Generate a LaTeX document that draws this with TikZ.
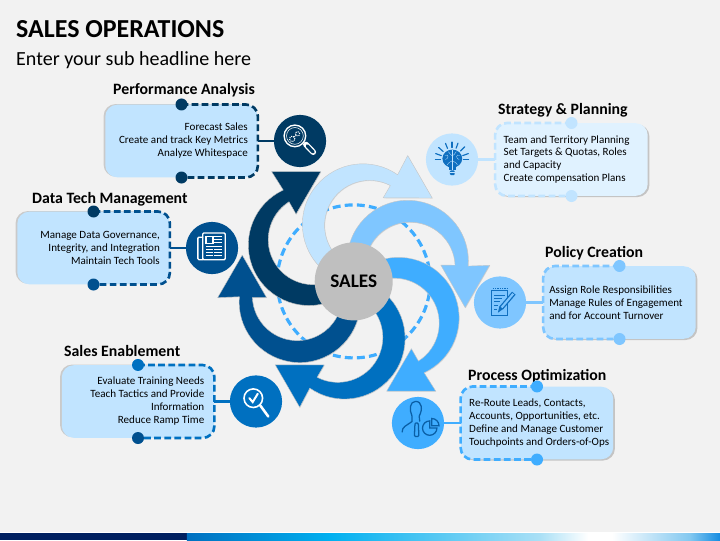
\documentclass[tikz,border=0pt]{standalone}
\usepackage{fontspec}
\setmainfont{Carlito}
\usetikzlibrary{positioning}
\usetikzlibrary{shadows}
\definecolor{pageGrey}{HTML}{F2F2F2}
\definecolor{navyBlue}{HTML}{003A63}
\definecolor{darkBlue}{HTML}{00508F}
\definecolor{midBlue}{HTML}{0070C0}
\definecolor{brightBlue}{HTML}{3FADFF}
\definecolor{softBlue}{HTML}{7FC6FF}
\definecolor{paleBlue}{HTML}{C1E4FF}
\definecolor{palerBlue}{HTML}{E0F2FF}
\definecolor{hubGrey}{HTML}{BFBFBF}
\definecolor{iconBlue}{HTML}{0F6FC0}
\definecolor{iconDeep}{HTML}{0A5FA6}
\newcommand{\salesArrow}[2]{
	\begin{scope}[shift={(salesCentre)}, rotate=#1]
		\path[draw=gray!45, line width=0.35pt, fill=#2, drop shadow={shadow xshift=0.5pt, shadow yshift=-0.5pt, opacity=0.2}] (-0.804, -0.680) arc[start angle=-70, end angle=-245, radius=2.018] -- (-2.733, 3.656) -- (-1.1, 3.656) -- (-1.922, 2.244) -- (-2.157, 2.656) arc[start angle=122.5, end angle=275, radius=1.5] -- cycle;
	\end{scope}
}
\begin{document}
\begin{tikzpicture}
			\tikzstyle{heading}=[anchor=west, inner sep=0, text height=10pt, text depth=1.5pt, font=\fontsize{15}{17}\selectfont\bfseries]
			\tikzstyle{panel}=[rectangle, rounded corners=0.4cm, minimum height=2.42cm, font=\fontsize{10.5}{12.3}\selectfont]
			\tikzstyle{panelRight}=[panel, align=flush right, inner xsep=0.33cm, text width=4.42cm, drop shadow={shadow xshift=-1.6pt, shadow yshift=0.6pt, opacity=0.35}]
			\tikzstyle{panelLeft}=[panel, align=flush left, inner xsep=0.28cm, text width=4.52cm, drop shadow={shadow xshift=1.6pt, shadow yshift=-1.2pt, opacity=0.4}]
			\tikzstyle{iconDisc}=[circle, minimum size=1.74cm, inner sep=0]
			\tikzstyle{endDot}=[circle, minimum size=0.4cm, inner sep=0]
			\tikzstyle{dashLine}=[line width=2.5pt, dash pattern=on 6.4pt off 3.2pt, rounded corners=0.4cm]
			\tikzstyle{linkLine}=[line width=2.7pt]
			\tikzstyle{whiteIcon}=[draw=white, line width=1.3pt, line cap=round]
			\useasboundingbox (0, 0) rectangle (24, 18);
			\fill[pageGrey] (0, 0) rectangle (24, 18);
			
			\fill[white] (0, 0.22) rectangle (24, 0.26);
			\fill[color={rgb,255:red,0;green,32;blue,96}] (0, 0) rectangle (6.24, 0.22);
			\shade[left color=midBlue, right color={rgb,255:red,0;green,176;blue,240}] (6.23, 0) rectangle (11, 0.22);
			\shade[left color={rgb,255:red,0;green,176;blue,240}, right color={rgb,255:red,170;green,224;blue,246}] (11, 0) rectangle (18, 0.22);
			\shade[left color={rgb,255:red,170;green,224;blue,246}, right color=white] (18, 0) rectangle (19.6, 0.22);
			\fill[white] (19.6, 0) rectangle (20.4, 0.22);
			\shade[left color=white, right color={rgb,255:red,130;green,200;blue,240}] (20.4, 0) rectangle (23, 0.22);
			\shade[left color={rgb,255:red,130;green,200;blue,240}, right color={rgb,255:red,20;green,140;blue,225}] (23, 0) rectangle (24, 0.22);
			
			\node[anchor=west, inner sep=0, font=\fontsize{24.6}{26}\selectfont\bfseries] at (0.533, 17.03) (mainTitle) {SALES OPERATIONS};
			\node[anchor=west, inner sep=0, font=\fontsize{19}{22}\selectfont] at (0.533, 16.0) (subTitle) {Enter your sub headline here};
			
			\coordinate (salesCentre) at (11.79, 8.62);
			\draw[brightBlue, line width=3pt, dash pattern=on 7.5pt off 4pt] (salesCentre) circle (2.55);
			\salesArrow{0}{navyBlue}
			\salesArrow{-60}{paleBlue}
			\salesArrow{-120}{softBlue}
			\salesArrow{-180}{brightBlue}
			\salesArrow{-240}{midBlue}
			\salesArrow{-300}{darkBlue}
			\node[circle, fill=hubGrey, minimum size=2.6cm, inner sep=0, font=\fontsize{18.2}{20}\selectfont\bfseries] at (salesCentre) (salesHub) {SALES};
			
			\node[heading] at (3.767, 15.0) (perfTitle) {Performance Analysis};
			\node[panelRight, fill=paleBlue] at (6.05, 13.3) (perfBox) {Forecast Sales\\Create and track Key Metrics\\Analyze Whitespace};
			\node[iconDisc, fill=navyBlue] at (10, 13.3) (perfIcon) {};
			\draw[dashLine, navyBlue] (perfBox.north) -| (perfBox.east) |- (perfBox.south);
			\node[endDot, fill=navyBlue] at (perfBox.north) (perfTop) {};
			\node[endDot, fill=navyBlue] at (perfBox.south) (perfBottom) {};
			\draw[linkLine, navyBlue] (perfBox.east) -- (perfIcon);
			
			\node[heading] at (1.067, 11.37) (dataTitle) {Data Tech Management};
			\node[panelRight, fill=paleBlue] at (3.117, 9.733) (dataBox) {Manage Data Governance,\\Integrity, and Integration\\Maintain Tech Tools};
			\node[iconDisc, fill=darkBlue] at (7.067, 9.733) (dataIcon) {};
			\draw[dashLine, darkBlue] (dataBox.north) -| (dataBox.east) |- (dataBox.south);
			\node[endDot, fill=navyBlue] at (dataBox.north) (dataTop) {};
			\node[endDot, fill=darkBlue] at (dataBox.south) (dataBottom) {};
			\draw[linkLine, darkBlue] (dataBox.east) -- (dataIcon);
			
			\node[heading] at (2.133, 6.27) (enableTitle) {Sales Enablement};
			\node[panelRight, fill=paleBlue] at (4.6, 4.617) (enableBox) {Evaluate Training Needs\\Teach Tactics and Provide\\Information\\Reduce Ramp Time};
			\node[iconDisc, fill=midBlue] at (8.533, 4.617) (enableIcon) {};
			\draw[dashLine, midBlue] (enableBox.north) -| (enableBox.east) |- (enableBox.south);
			\node[endDot, fill=midBlue] at (enableBox.north) (enableTop) {};
			\node[endDot, fill=darkBlue] at (enableBox.south) (enableBottom) {};
			\draw[linkLine, midBlue] (enableBox.east) -- (enableIcon);
			
			\node[heading] at (16.6, 14.34) (stratTitle) {Strategy \& Planning};
			\node[panelLeft, fill=palerBlue] at (19.05, 12.683) (stratBox) {Team and Territory Planning\\Set Targets \& Quotas, Roles\\and Capacity\\Create compensation Plans};
			\node[iconDisc, fill=paleBlue] at (15.067, 12.683) (stratIcon) {};
			\draw[dashLine, paleBlue] (stratBox.north) -| (stratBox.west) |- (stratBox.south);
			\node[endDot, fill=paleBlue] at (stratBox.north) (stratTop) {};
			\node[endDot, fill=paleBlue] at (stratBox.south) (stratBottom) {};
			\draw[linkLine, paleBlue] (stratBox.west) -- (stratIcon);
			
			\node[heading] at (18.167, 9.57) (policyTitle) {Policy Creation};
			\node[panelLeft, fill=paleBlue, inner xsep=0.2cm, text width=4.68cm] at (20.65, 7.917) (policyBox) {Assign Role Responsibilities\\Manage Rules of Engagement\\and for Account Turnover};
			\node[iconDisc, fill=softBlue] at (16.667, 7.917) (policyIcon) {};
			\draw[dashLine, softBlue] (policyBox.north) -| (policyBox.west) |- (policyBox.south);
			\node[endDot, fill=softBlue] at (policyBox.north) (policyTop) {};
			\node[endDot, fill=softBlue] at (policyBox.south) (policyBottom) {};
			\draw[linkLine, softBlue] (policyBox.west) -- (policyIcon);
			
			\node[heading] at (15.6, 5.47) (processTitle) {Process Optimization};
			\node[panelLeft, fill=paleBlue] at (17.9, 3.9) (processBox) {Re-Route Leads, Contacts,\\Accounts, Opportunities, etc.\\Define and Manage Customer\\\mbox{Touchpoints and Orders-of-Ops}};
			\node[iconDisc, fill=brightBlue] at (13.933, 3.9) (processIcon) {};
			\draw[dashLine, brightBlue] (processBox.north) -| (processBox.west) |- (processBox.south);
			\node[endDot, fill=brightBlue] at (processBox.north) (processTop) {};
			\node[endDot, fill=brightBlue] at (processBox.south) (processBottom) {};
			\draw[linkLine, brightBlue] (processBox.west) -- (processIcon);
			
			\begin{scope}[shift={(perfIcon)}]
				\draw[white, line width=5.5pt, line cap=round] (0.2, -0.12) -- (0.44, -0.37);
				\draw[navyBlue, line width=3pt, line cap=round] (0.24, -0.16) -- (0.44, -0.37);
				\draw[whiteIcon, fill=navyBlue] (-0.17, 0.17) circle (0.36);
				\draw[white, line width=0.5pt] (-0.17, 0.17) circle (0.28);
				\draw[white, line width=1pt, densely dotted] (-0.26, 0.07) circle (0.09);
				\draw[white, line width=1pt, densely dotted] (-0.08, 0.24) circle (0.07);
				\draw[white, line width=0.5pt] (-0.22, 0.12) -- (-0.13, 0.19);
			\end{scope}
			
			\begin{scope}[shift={(dataIcon)}]
				\draw[whiteIcon, rounded corners=1pt] (-0.31, 0.36) -- (-0.47, 0.36) -- (-0.47, -0.39) -- (-0.31, -0.39);
				\draw[whiteIcon, rounded corners=1pt] (-0.31, 0.5) rectangle (0.44, -0.39);
				\draw[white, line width=1.2pt] (-0.2, 0.39) rectangle (0.03, 0.16);
				\draw[white, line width=1pt] (0.08, 0.37) -- (0.34, 0.37);
				\draw[white, line width=1pt] (0.08, 0.27) -- (0.34, 0.27);
				\draw[white, line width=1pt] (0.08, 0.18) -- (0.34, 0.18);
				\draw[white, line width=1pt] (-0.2, 0.05) -- (0.34, 0.05);
				\draw[white, line width=1pt] (-0.2, -0.05) -- (0.02, -0.05);
				\draw[white, line width=1pt] (0.08, -0.05) -- (0.34, -0.05);
				\draw[white, line width=1pt] (-0.2, -0.15) -- (0.02, -0.15);
				\draw[white, line width=1pt] (0.08, -0.15) -- (0.34, -0.15);
				\draw[white, line width=1pt] (-0.2, -0.26) -- (0.02, -0.26);
				\draw[white, line width=1pt] (0.08, -0.26) -- (0.34, -0.26);
			\end{scope}
			
			\begin{scope}[shift={(enableIcon)}]
				\draw[whiteIcon, line width=1.5pt] (-0.09, 0.11) circle (0.31);
				\draw[white, line width=2.4pt, line cap=round] (0.14, -0.13) -- (0.41, -0.5);
				\draw[white, line width=1.9pt, line cap=round] (-0.22, 0.11) -- (-0.11, -0.02) -- (0.06, 0.26);
			\end{scope}
			
			\begin{scope}[shift={(stratIcon)}]
				\draw[iconBlue, line width=1.1pt, line cap=round] (0:0.38) -- (0:0.55);
				\draw[iconBlue, line width=1.1pt, line cap=round] (20:0.38) -- (20:0.58);
				\draw[iconBlue, line width=1.1pt, line cap=round] (45:0.4) -- (45:0.6);
				\draw[iconBlue, line width=1.1pt, line cap=round] (70:0.4) -- (70:0.58);
				\draw[iconBlue, line width=1.1pt, line cap=round] (90:0.4) -- (90:0.58);
				\draw[iconBlue, line width=1.1pt, line cap=round] (112:0.4) -- (112:0.58);
				\draw[iconBlue, line width=1.1pt, line cap=round] (138:0.4) -- (138:0.6);
				\draw[iconBlue, line width=1.1pt, line cap=round] (160:0.38) -- (160:0.58);
				\draw[iconBlue, line width=1.1pt, line cap=round] (180:0.38) -- (180:0.55);
				\fill[iconBlue] (0.01, 0.03) ellipse (0.33 and 0.3);
				\fill[iconBlue] (-0.11, -0.2) rectangle (0.13, -0.36);
				\fill[iconBlue, rounded corners=1pt] (-0.07, -0.36) rectangle (0.09, -0.52);
				\draw[paleBlue, line width=0.3pt] (0.01, 0.32) -- (0.01, -0.34);
				\draw[paleBlue, line width=0.3pt] (-0.24, 0.14) .. controls (-0.1, 0.2) and (-0.1, 0.02) .. (-0.22, 0);
				\draw[paleBlue, line width=0.3pt] (0.26, 0.14) .. controls (0.12, 0.2) and (0.12, 0.02) .. (0.24, 0);
				\draw[paleBlue, line width=0.3pt] (-0.16, -0.18) .. controls (-0.1, -0.06) and (-0.04, -0.1) .. (0.01, -0.04);
				\draw[paleBlue, line width=0.3pt] (0.18, -0.18) .. controls (0.12, -0.06) and (0.06, -0.1) .. (0.01, -0.04);
				\draw[paleBlue, line width=0.3pt] (-0.12, 0.26) .. controls (-0.06, 0.2) and (-0.06, 0.14) .. (0.01, 0.12);
				\draw[paleBlue, line width=0.3pt] (0.14, 0.26) .. controls (0.08, 0.2) and (0.08, 0.14) .. (0.01, 0.12);
				\draw[paleBlue, line width=0.35pt] (-0.07, -0.42) -- (0.09, -0.42);
			\end{scope}
			
			\begin{scope}[shift={(policyIcon)}]
				\draw[iconBlue, line width=1.2pt] (-0.28, 0.39) rectangle (0.26, -0.44);
				\draw[iconBlue, line width=1.2pt, densely dotted] (-0.24, 0.46) -- (0.24, 0.46);
				\draw[iconBlue, line width=1pt] (-0.2, 0.24) -- (0.16, 0.24);
				\draw[iconBlue, line width=1pt] (-0.2, 0.13) -- (0.08, 0.13);
				\draw[iconBlue, line width=1pt] (-0.2, 0.02) -- (0, 0.02);
				\draw[iconBlue, line width=1pt] (-0.2, -0.09) -- (-0.08, -0.09);
				\draw[iconBlue, line width=1pt] (-0.2, -0.24) -- (-0.1, -0.24);
				\draw[iconBlue, line width=4.4pt] (0.04, -0.18) -- (0.46, 0.31);
				\draw[softBlue, line width=2pt] (0.05, -0.17) -- (0.44, 0.29);
				\fill[iconBlue] (-0.07, -0.34) -- (0.1, -0.22) -- (-0.02, -0.12) -- cycle;
			\end{scope}
			
			\begin{scope}[shift={(processIcon)}]
				\draw[iconDeep, line width=1.2pt, line join=round] (-0.53, -0.31) .. controls (-0.53, -0.12) and (-0.4, -0.1) .. (-0.2, 0.05) -- (-0.2, 0.23) .. controls (-0.3, 0.45) and (-0.27, 0.72) .. (-0.08, 0.72) .. controls (0.14, 0.72) and (0.16, 0.45) .. (0.04, 0.23) -- (0.06, 0.05);
				\draw[iconDeep, line width=1.2pt, rounded corners=1pt] (-0.1, 0) -- (-0.12, -0.45) -- (0.03, -0.45) -- (0.01, 0) -- cycle;
				\draw[iconDeep, line width=1.2pt] (0.63, -0.17) arc[start angle=0, end angle=-270, radius=0.24] -- (0.39, -0.17) -- cycle;
				\draw[iconDeep, line width=1.2pt] (0.46, -0.09) -- (0.46, 0.15) arc[start angle=90, end angle=0, radius=0.24] -- cycle;
			\end{scope}
		\end{tikzpicture}
\end{document}
